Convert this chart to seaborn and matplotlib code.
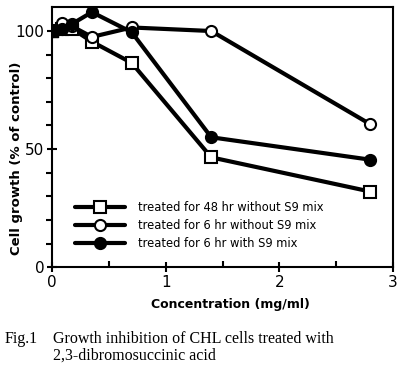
import matplotlib
matplotlib.use("Agg")
import matplotlib.pyplot as plt
import numpy as np
import pandas as pd
import seaborn as sns

# concentrations (mg/ml) and cell growth (% of control)
conc = [0, 0.0875, 0.175, 0.35, 0.7, 1.4, 2.8]
growth_48h_no_s9 = [100, 101, 101, 95.5, 86.5, 46.5, 32]
growth_6h_no_s9 = [100, 103.5, 102, 97.5, 101.5, 100, 60.5]
growth_6h_s9 = [100, 101, 103, 108, 99.5, 55, 45.5]
labels = [
    "treated for 48 hr without S9 mix",
    "treated for 6 hr without S9 mix",
    "treated for 6 hr with S9 mix",
]

sns.set_style("ticks")
plt.rcParams["font.family"] = ["DejaVu Sans"]
plt.rcParams.update({
    "text.color": "black",
    "axes.labelcolor": "black",
    "xtick.color": "black",
    "ytick.color": "black",
})

fig = plt.figure(figsize=(4.04, 3.9), dpi=100)
ax = fig.add_axes([0.129, 0.315, 0.844, 0.666])

common = dict(color="black", lw=3, ms=8, mec="black", mew=1.5, ax=ax)
sns.lineplot(x=conc, y=growth_48h_no_s9, marker="s", mfc="white", label=labels[0], **common)
sns.lineplot(x=conc, y=growth_6h_no_s9, marker="o", mfc="white", label=labels[1], **common)
sns.lineplot(x=conc, y=growth_6h_s9, marker="o", mfc="black", label=labels[2], **common)
# control point drawn solid (overlapping markers at 0)
ax.plot(conc[:1], growth_48h_no_s9[:1], marker="s", ms=8, color="black", ls="none", zorder=5)

ax.set_xlim(0, 3)
ax.set_ylim(0, 110)
ax.set_xticks([0, 1, 2, 3])
ax.set_xticks([0.5, 1.5, 2.5], minor=True)
ax.set_yticks([0, 50, 100])
ax.set_yticks([10, 20, 30, 40, 60, 70, 80, 90], minor=True)
ax.tick_params(axis="both", which="major", direction="inout", length=7, width=1.5, labelsize=11, pad=2)
ax.tick_params(axis="x", which="minor", direction="in", length=4, width=1.5)
ax.tick_params(axis="y", which="minor", direction="out", length=4, width=1.5)
for s in ax.spines.values():
    s.set_linewidth(1.5)
    s.set_color("black")

ax.set_xlabel("Concentration (mg/ml)", fontsize=9, fontweight="bold")
ax.xaxis.set_label_coords(0.522, -0.12)
ax.set_ylabel("Cell growth (% of control)", fontsize=9.5, fontweight="bold")
ax.yaxis.set_label_coords(-0.085, 0.42)

ax.legend(
    loc="upper left",
    bbox_to_anchor=(0.055, 0.272),
    frameon=False,
    fontsize=8.3,
    handlelength=4.3,
    handletextpad=1.1,
    labelspacing=0.45,
    borderaxespad=0,
)

fig.text(0.012, 0.12, "Fig.1", family="Liberation Serif", fontsize=11.5)
fig.text(0.131, 0.12, "Growth inhibition of CHL cells treated with", family="Liberation Serif", fontsize=11.5)
fig.text(0.131, 0.077, "2,3-dibromosuccinic acid", family="Liberation Serif", fontsize=11.5)

fig.savefig("out.png", dpi=100)
